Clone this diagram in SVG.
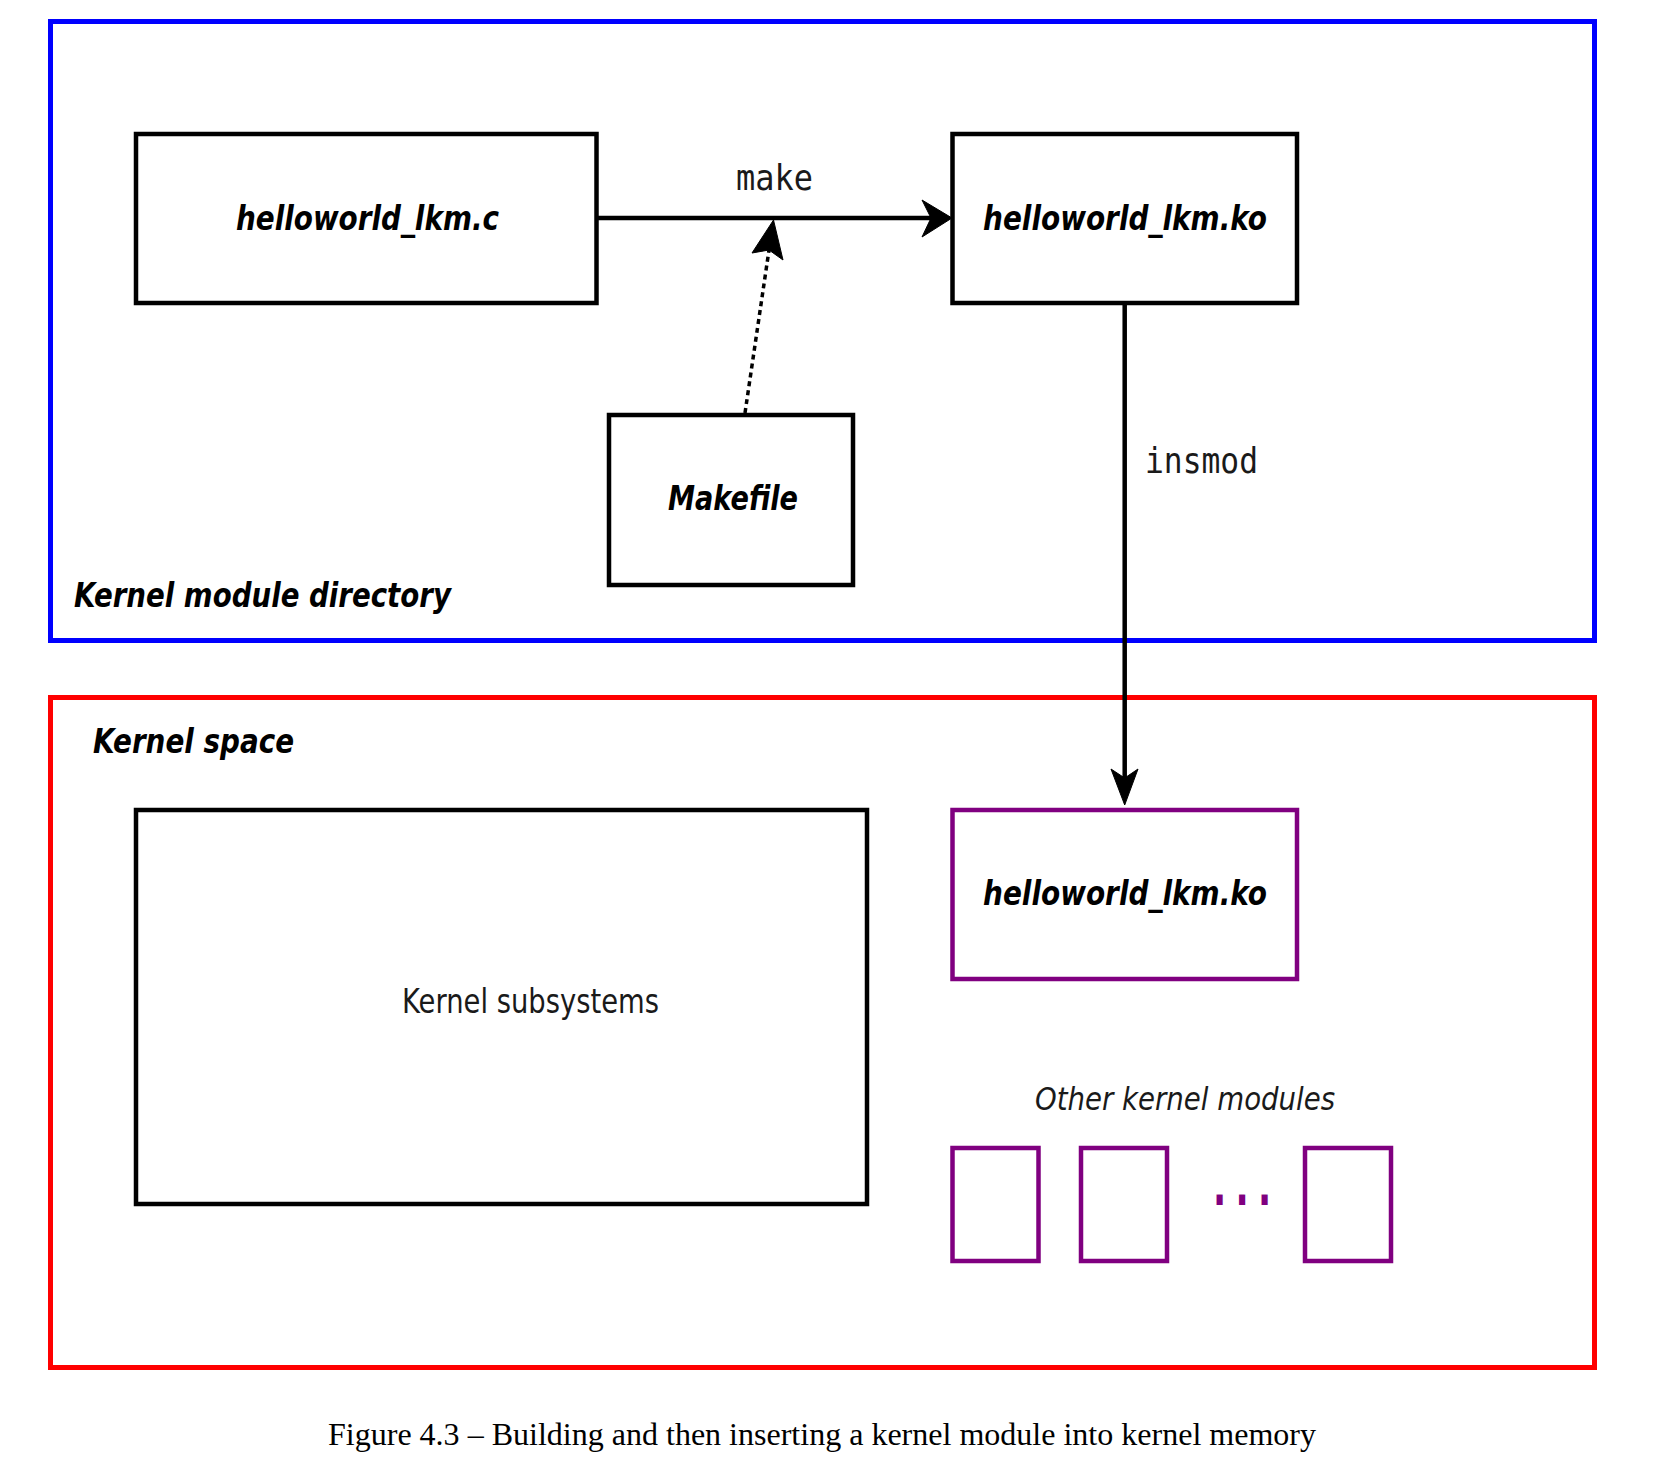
<svg xmlns="http://www.w3.org/2000/svg" width="1656" height="1462" viewBox="0 0 1656 1462">
<style>
  .box { fill: #ffffff; stroke: #000000; stroke-width: 4.5; }
  .pbox { fill: #ffffff; stroke: #800080; stroke-width: 4.5; }
  .bi { font-family: "DejaVu Sans", "Liberation Sans", sans-serif; font-weight: bold; font-style: italic; font-size: 33px; fill: #000000; }
  .mono { font-family: "DejaVu Sans Mono", "Liberation Mono", monospace; font-size: 36px; fill: #1a1a1a; }
  .reg { font-family: "DejaVu Sans", "Liberation Sans", sans-serif; font-size: 34px; fill: #1a1a1a; }
  .ital { font-family: "DejaVu Sans", "Liberation Sans", sans-serif; font-style: italic; font-size: 32px; fill: #1a1a1a; }
  .cap { font-family: "Liberation Serif", "Times New Roman", serif; font-size: 31px; fill: #000000; }
  .line { fill: none; stroke: #000000; stroke-width: 4.5; }
  .dotted { fill: none; stroke: #000000; stroke-width: 3.5; stroke-dasharray: 5 4; }
  .head { fill: #000000; stroke: #000000; stroke-width: 1; stroke-linejoin: miter; }
</style>
<rect width="1656" height="1462" fill="#ffffff"/>

<g id="kernel-module-directory">
  <rect x="50.5" y="21.5" width="1544" height="619" fill="none" stroke="#0000ff" stroke-width="5"/>
  <text class="bi" x="74" y="607" textLength="377" lengthAdjust="spacingAndGlyphs">Kernel module directory</text>
</g>

<g id="kernel-space">
  <rect x="50.5" y="697.5" width="1544" height="670" fill="none" stroke="#ff0000" stroke-width="5"/>
  <text class="bi" x="93" y="753" textLength="201" lengthAdjust="spacingAndGlyphs">Kernel space</text>
</g>

<g id="node-helloworld-c">
  <rect class="box" x="136" y="134" width="460.5" height="169"/>
  <text class="bi" x="236" y="230" textLength="263" lengthAdjust="spacingAndGlyphs">helloworld_lkm.c</text>
</g>

<g id="node-helloworld-ko">
  <rect class="box" x="952.5" y="134" width="344.5" height="169"/>
  <text class="bi" x="983" y="230" textLength="284" lengthAdjust="spacingAndGlyphs">helloworld_lkm.ko</text>
</g>

<g id="node-makefile">
  <rect class="box" x="609" y="415" width="244" height="170"/>
  <text class="bi" x="668" y="510" textLength="130" lengthAdjust="spacingAndGlyphs">Makefile</text>
</g>

<g id="node-kernel-subsystems">
  <rect class="box" x="136" y="810" width="731" height="394"/>
  <text class="reg" x="402" y="1013" textLength="257" lengthAdjust="spacingAndGlyphs">Kernel subsystems</text>
</g>

<g id="node-helloworld-ko-loaded">
  <rect class="pbox" x="952.5" y="810" width="344.5" height="169"/>
  <text class="bi" x="983" y="905" textLength="284" lengthAdjust="spacingAndGlyphs">helloworld_lkm.ko</text>
</g>

<g id="node-other-modules">
  <text class="ital" x="1035" y="1110" textLength="300" lengthAdjust="spacingAndGlyphs">Other kernel modules</text>
  <rect class="pbox" x="952.5" y="1148" width="86" height="113"/>
  <rect class="pbox" x="1081" y="1148" width="86" height="113"/>
  <rect class="pbox" x="1305" y="1148" width="86" height="113"/>
  <text transform="translate(1213,1205) scale(0.62,1)" x="0" y="0" font-family="DejaVu Sans, sans-serif" font-weight="bold" font-size="56" letter-spacing="15" fill="#800080">...</text>
</g>

<g id="connectors">
  <line class="line" x1="596" y1="218" x2="932" y2="218"/>
  <polygon class="head" points="952,218 922,200 931,218 922,237"/>
  <text class="mono" x="736" y="190" textLength="77" lengthAdjust="spacingAndGlyphs">make</text>

  <line class="dotted" x1="745" y1="413" x2="769" y2="250"/>
  <polygon class="head" points="773.5,220 783,260 769,250 752,253"/>

  <line class="line" x1="1124.7" y1="303" x2="1124.7" y2="780"/>
  <polygon class="head" points="1124.7,805 1111,769 1124.7,778 1138,769"/>
  <text class="mono" x="1145" y="473" textLength="113" lengthAdjust="spacingAndGlyphs">insmod</text>
</g>

<g id="caption">
  <text class="cap" x="328" y="1445" textLength="988" lengthAdjust="spacingAndGlyphs">Figure 4.3 – Building and then inserting a kernel module into kernel memory</text>
</g>
</svg>
